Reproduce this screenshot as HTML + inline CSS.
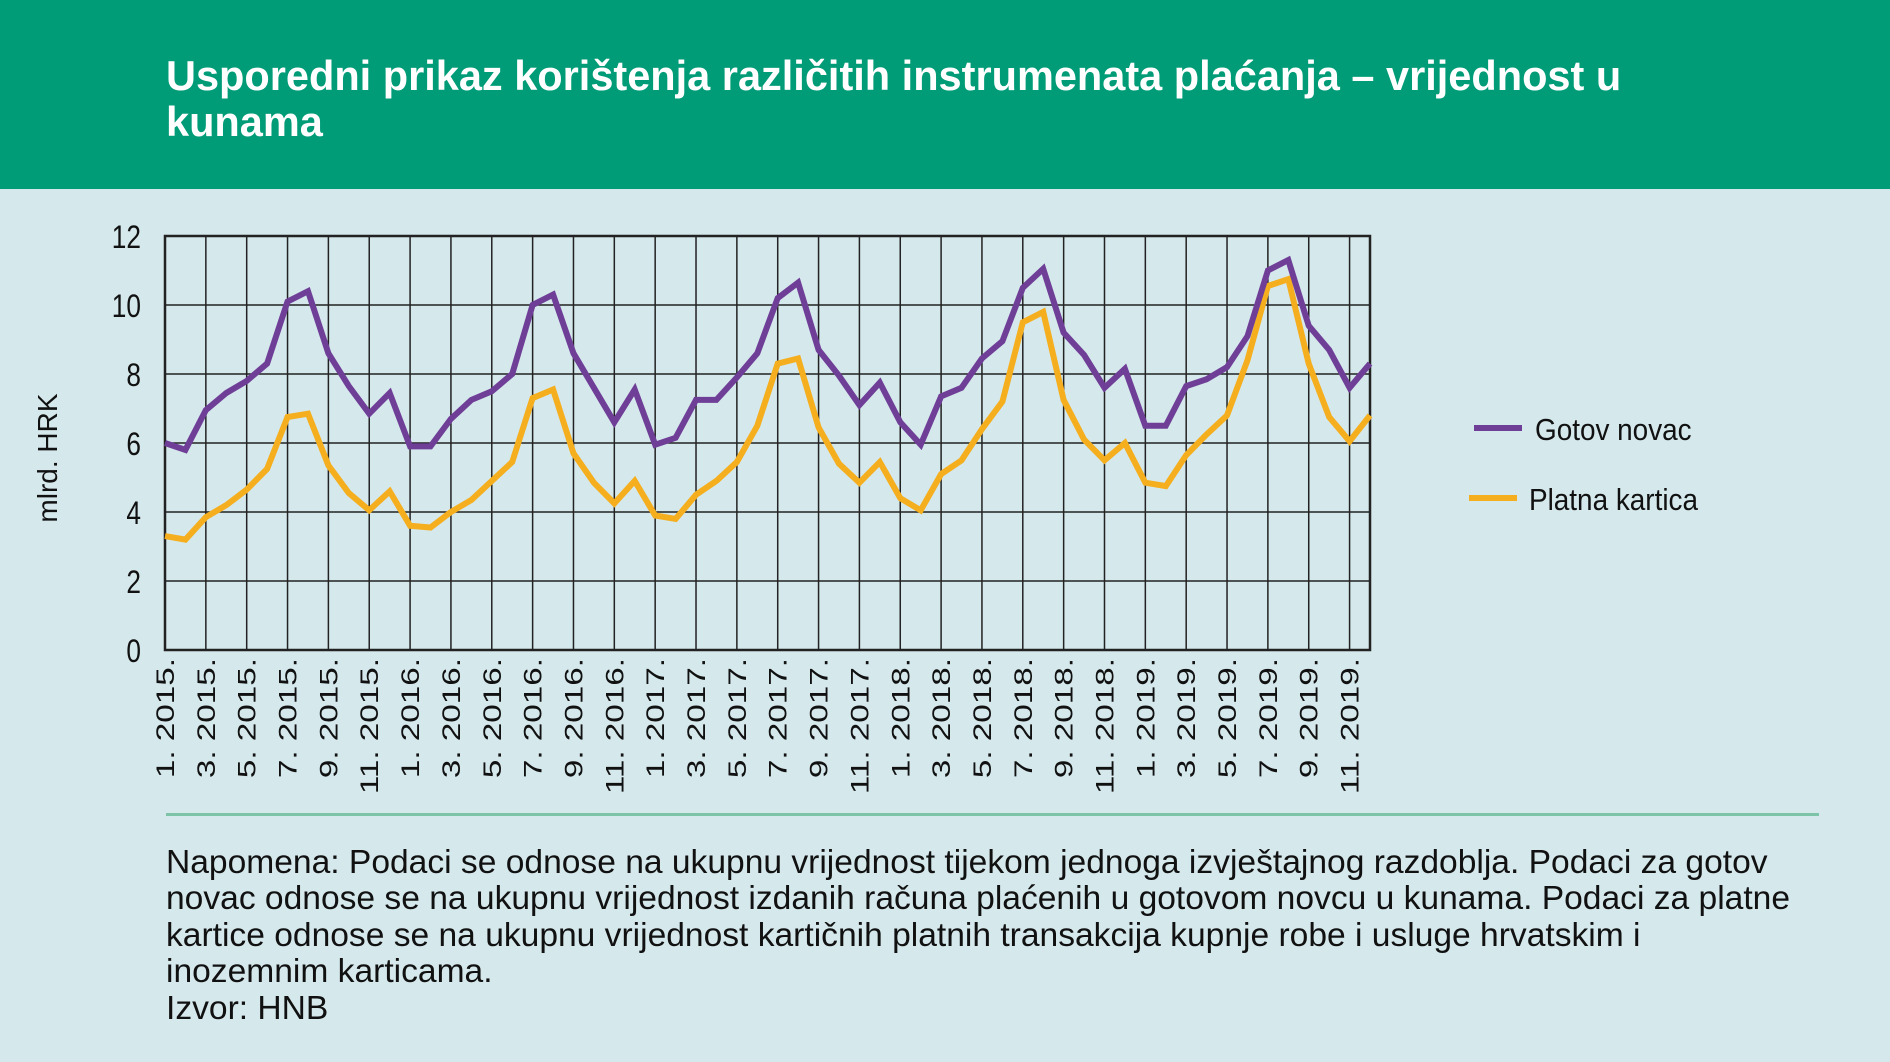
<!DOCTYPE html>
<html><head><meta charset="utf-8"><style>
html,body{margin:0;padding:0;width:1890px;height:1062px;overflow:hidden;background:#d5e8ec;font-family:"Liberation Sans",sans-serif;}
.hdr{position:absolute;left:0;top:0;width:1890px;height:189px;background:#009b77;}
.title{position:absolute;left:166px;top:53px;color:#fff;font-weight:bold;font-size:41.5px;line-height:46px;white-space:nowrap;}
.note{position:absolute;left:166px;top:845px;font-size:33.6px;line-height:36.4px;color:#111;white-space:nowrap;}
.sep{position:absolute;left:166px;top:813px;width:1653px;height:3px;background:#7cc3a8;}
</style></head><body>
<div class="hdr"></div>
<div class="title">Usporedni prikaz korištenja različitih instrumenata plaćanja – vrijednost u<br>kunama</div>
<svg id="s" width="1890" height="1062" style="position:absolute;left:0;top:0" xmlns="http://www.w3.org/2000/svg"></svg>
<div class="sep"></div>
<div class="note">Napomena: Podaci se odnose na ukupnu vrijednost tijekom jednoga izvještajnog razdoblja. Podaci za gotov<br>novac odnose se na ukupnu vrijednost izdanih računa plaćenih u gotovom novcu u kunama. Podaci za platne<br>kartice odnose se na ukupnu vrijednost kartičnih platnih transakcija kupnje robe i usluge hrvatskim i<br>inozemnim karticama.<br>Izvor: HNB</div>
<script>
var g=[6.0,5.8,6.95,7.45,7.8,8.3,10.1,10.4,8.6,7.65,6.85,7.45,5.9,5.9,6.7,7.25,7.5,8.0,10.0,10.3,8.6,7.6,6.6,7.55,5.95,6.15,7.25,7.25,7.9,8.6,10.2,10.65,8.7,7.95,7.1,7.75,6.6,5.95,7.35,7.6,8.45,8.95,10.5,11.05,9.2,8.55,7.6,8.15,6.5,6.5,7.65,7.85,8.2,9.1,11.0,11.3,9.4,8.7,7.6,8.3];
var p=[3.3,3.2,3.85,4.2,4.65,5.25,6.75,6.85,5.35,4.55,4.05,4.6,3.6,3.55,4.0,4.35,4.9,5.45,7.3,7.55,5.7,4.85,4.25,4.9,3.9,3.8,4.5,4.9,5.45,6.5,8.3,8.45,6.45,5.4,4.85,5.45,4.4,4.05,5.1,5.5,6.4,7.2,9.5,9.8,7.25,6.1,5.5,6.0,4.85,4.75,5.65,6.25,6.8,8.4,10.55,10.75,8.3,6.75,6.05,6.8];
var L=165,R=1370,T=236,B=650,dx=(R-L)/59;
function X(i){return L+i*dx;}function Y(v){return B-v*(B-T)/12;}
var h='';
for(var k=0;k<=12;k+=2){var y=Y(k);h+='<line x1="'+L+'" x2="'+R+'" y1="'+y+'" y2="'+y+'" stroke="#222" stroke-width="1.5"/>';
h+='<text x="141" y="'+(y+12)+'" text-anchor="end" font-size="32" fill="#111" transform="translate(141 0) scale(0.82 1) translate(-141 0)">'+k+'</text>';}
for(var i=0;i<60;i+=2){h+='<line x1="'+X(i)+'" x2="'+X(i)+'" y1="'+T+'" y2="'+B+'" stroke="#222" stroke-width="1.5"/>';}
h+='<rect x="'+L+'" y="'+T+'" width="'+(R-L)+'" height="'+(B-T)+'" fill="none" stroke="#222" stroke-width="2.5"/>';
for(var i=0;i<60;i+=2){var m=(i%12)+1,yr=2015+Math.floor(i/12);var x=X(i)+9;
h+='<text transform="translate('+x+' 658) rotate(-90) scale(1.33 1)" text-anchor="end" font-size="25" fill="#111">'+m+'. '+yr+'.</text>';}
function pl(d,c){var s='';for(var i=0;i<d.length;i++)s+=X(i).toFixed(1)+','+Y(d[i]).toFixed(1)+' ';return '<polyline points="'+s+'" fill="none" stroke="'+c+'" stroke-width="6" stroke-linejoin="miter"/>';}
h+=pl(p,'#f5ae1d')+pl(g,'#6f3f98');
h+='<text transform="translate(57 458) rotate(-90)" text-anchor="middle" font-size="28" fill="#111">mlrd. HRK</text>';
h+='<line x1="1474" x2="1522" y1="428" y2="428" stroke="#6f3f98" stroke-width="6"/>';
h+='<text x="1535" y="440" font-size="31" fill="#111" transform="translate(1535 0) scale(0.9 1) translate(-1535 0)">Gotov novac</text>';
h+='<line x1="1469" x2="1517" y1="498" y2="498" stroke="#f5ae1d" stroke-width="6"/>';
h+='<text x="1529" y="510" font-size="31" fill="#111" transform="translate(1529 0) scale(0.9 1) translate(-1529 0)">Platna kartica</text>';
document.getElementById('s').innerHTML=h;
</script>
</body></html>
